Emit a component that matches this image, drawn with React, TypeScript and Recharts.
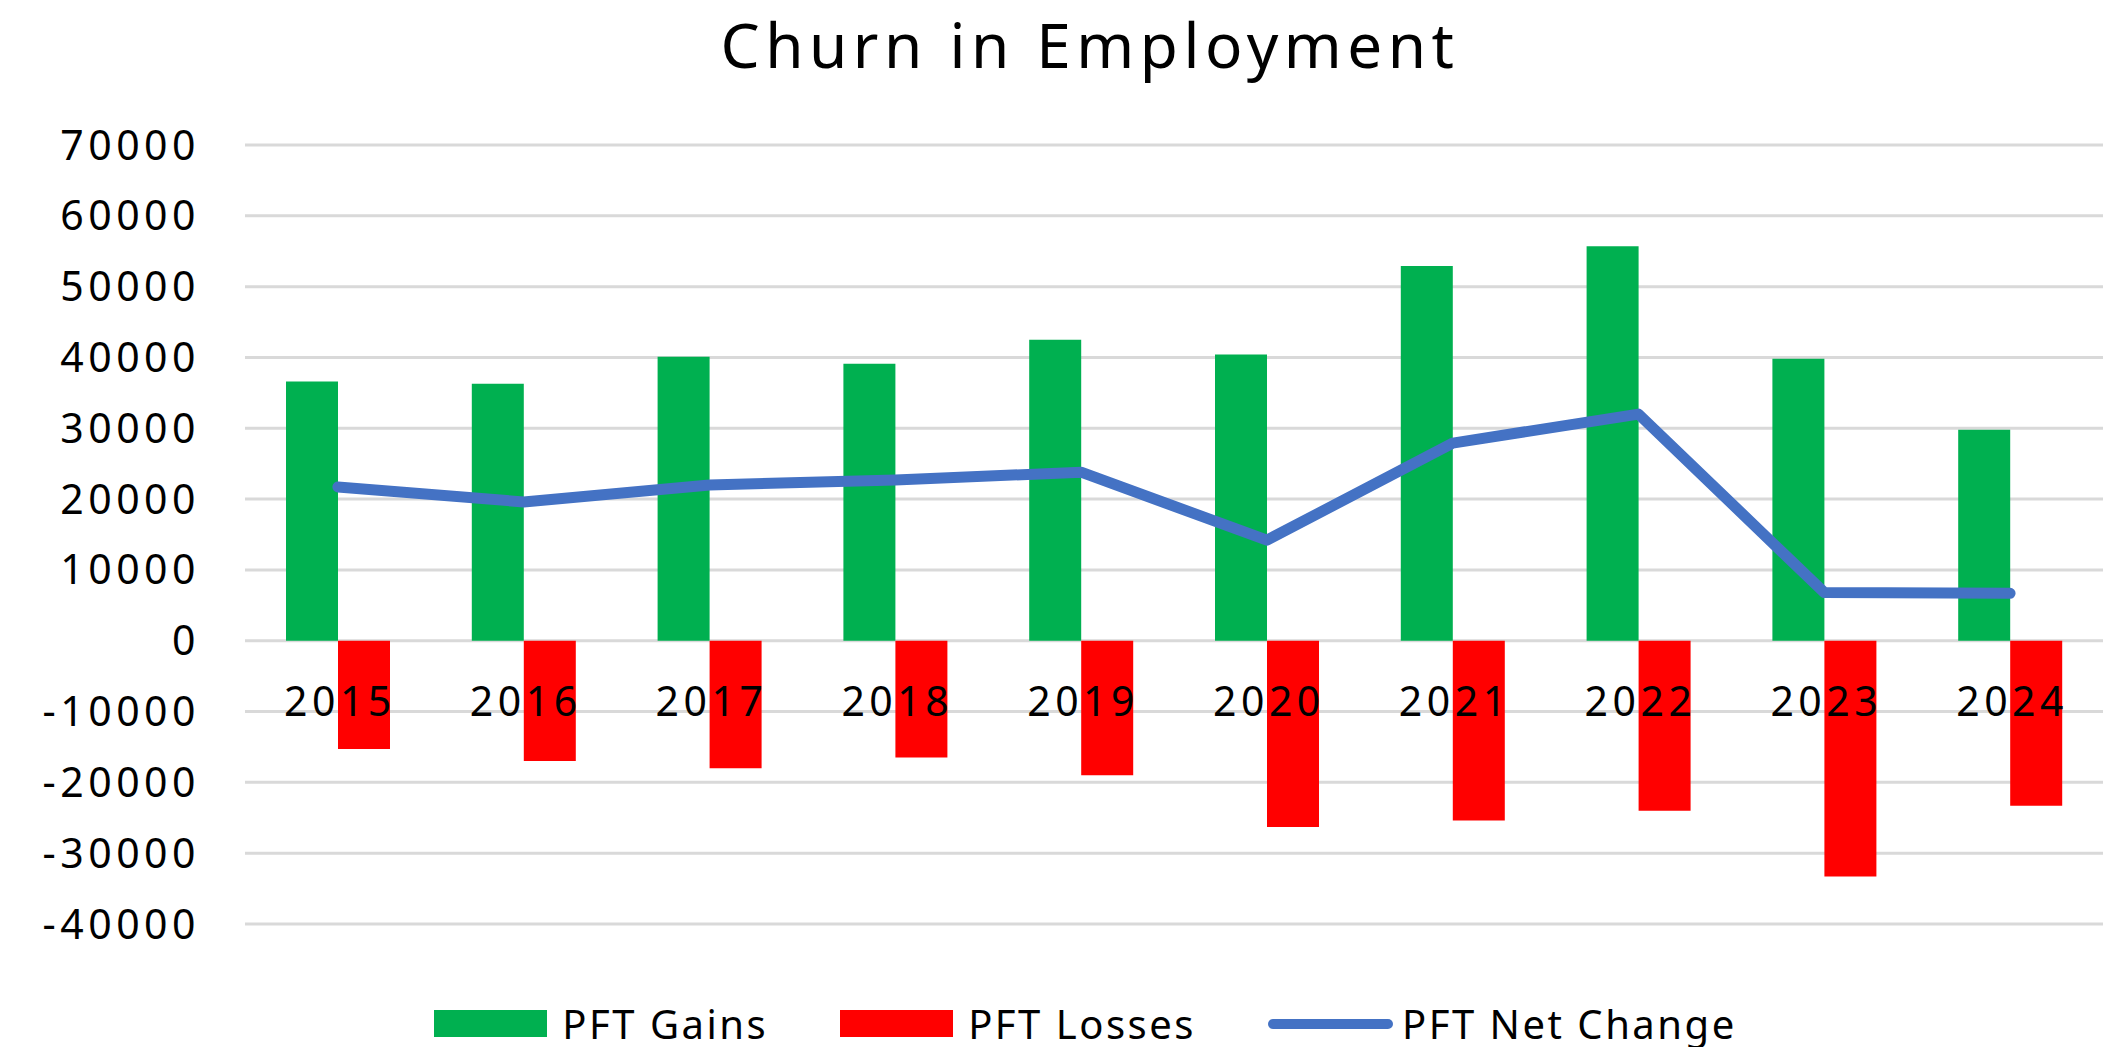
import {
  ComposedChart,
  Bar,
  Line,
  XAxis,
  YAxis,
  CartesianGrid,
} from 'recharts';

// chart values
const years = ['2015', '2016', '2017', '2018', '2019', '2020', '2021', '2022', '2023', '2024'];
const gains = [36600, 36300, 40100, 39100, 42500, 40400, 52900, 55700, 39800, 29800];
const losses = [-15300, -17000, -18000, -16500, -19000, -26300, -25400, -24000, -33300, -23300];
const netChange = [21700, 19600, 22000, 22700, 23800, 14200, 27900, 32000, 6800, 6700];
const yTicks = [70000, 60000, 50000, 40000, 30000, 20000, 10000, 0, -10000, -20000, -30000, -40000];

const seriesNames = ['PFT Gains', 'PFT Losses', 'PFT Net Change'];
const title = 'Churn in Employment';

const data = years.map((year, i) => ({
  year,
  gains: gains[i],
  losses: losses[i],
  net: netChange[i],
}));

// layout
const W = 2105;
const H = 1047;
const TOP = 145;
const BOTTOM = 123;
const X_AXIS_H = 30;
const PLOT_LEFT = 245;
const Y_MIN = -40000;
const Y_MAX = 70000;
const ZERO_Y = TOP + (Y_MAX / (Y_MAX - Y_MIN)) * (H - TOP - BOTTOM);

const FONT = '"Noto Sans", "Open Sans", sans-serif';
const GREEN = '#00B050';
const RED = '#FF0000';
const BLUE = '#4472C4';

// Excel puts the category labels next to the zero line, not under the plot
const renderYearTick = (props: any) => {
  const { x, payload, index } = props;
  return (
    <text
      key={`year-${index}`}
      x={x + 2}
      y={ZERO_Y + 75}
      textAnchor="middle"
      fontSize={41}
      letterSpacing={4.5}
      fill="#000"
      fontFamily={FONT}
    >
      {payload.value}
    </text>
  );
};

const LegendRow = () => {
  const swatches = [
    <div style={{ width: 113, height: 27, background: GREEN }} />,
    <div style={{ width: 113, height: 27, background: RED }} />,
    <div style={{ width: 125, height: 10, borderRadius: 5, background: BLUE }} />,
  ];
  return (
    <div
      style={{
        position: 'absolute',
        left: 0,
        top: 996,
        width: W,
        paddingLeft: 66,
        boxSizing: 'border-box',
        display: 'flex',
        justifyContent: 'center',
        alignItems: 'center',
        fontFamily: FONT,
        fontSize: 40,
        letterSpacing: 2.5,
        color: '#000',
      }}
    >
      {seriesNames.map((name, i) => (
        <div
          key={name}
          style={{
            display: 'flex',
            alignItems: 'center',
            marginRight: i < seriesNames.length - 1 ? 72 : 0,
          }}
        >
          {swatches[i]}
          <span style={{ marginLeft: i === 2 ? 9 : 15 }}>{name}</span>
        </div>
      ))}
    </div>
  );
};

export default function App() {
  return (
    <div
      style={{
        position: 'absolute',
        left: 0,
        top: 0,
        width: W,
        height: H,
        background: '#fff',
      }}
    >
      <svg
        width={W}
        height={130}
        style={{ position: 'absolute', left: 0, top: 0 }}
      >
        <text
          x={1090}
          y={68}
          textAnchor="middle"
          fontSize={62}
          letterSpacing={5.5}
          fill="#000"
          fontFamily={FONT}
        >
          {title}
        </text>
      </svg>

      <div style={{ position: 'absolute', left: 0, top: 0 }}>
        <ComposedChart
          width={W}
          height={H}
          data={data}
          margin={{ top: TOP, right: 2, bottom: BOTTOM - X_AXIS_H, left: 0 }}
          barGap={0}
        >
          <CartesianGrid vertical={false} stroke="#D9D9D9" strokeWidth={3} />
          <XAxis
            dataKey="year"
            height={X_AXIS_H}
            axisLine={false}
            tickLine={false}
            interval={0}
            tick={renderYearTick}
          />
          <YAxis
            width={PLOT_LEFT}
            domain={[Y_MIN, Y_MAX]}
            ticks={yTicks}
            interval={0}
            axisLine={false}
            tickLine={false}
            tickSize={0}
            tickMargin={45}
            tick={{ fontSize: 41, fill: '#000', fontFamily: FONT, letterSpacing: 4.5 }}
          />
          <Bar
            dataKey="gains"
            name={seriesNames[0]}
            fill={GREEN}
            barSize={52}
            isAnimationActive={false}
          />
          <Bar
            dataKey="losses"
            name={seriesNames[1]}
            fill={RED}
            barSize={52}
            isAnimationActive={false}
          />
          <Line
            type="linear"
            dataKey="net"
            name={seriesNames[2]}
            stroke={BLUE}
            strokeWidth={11}
            strokeLinecap="round"
            strokeLinejoin="round"
            dot={false}
            activeDot={false}
            isAnimationActive={false}
          />
        </ComposedChart>
      </div>

      <LegendRow />
    </div>
  );
}
